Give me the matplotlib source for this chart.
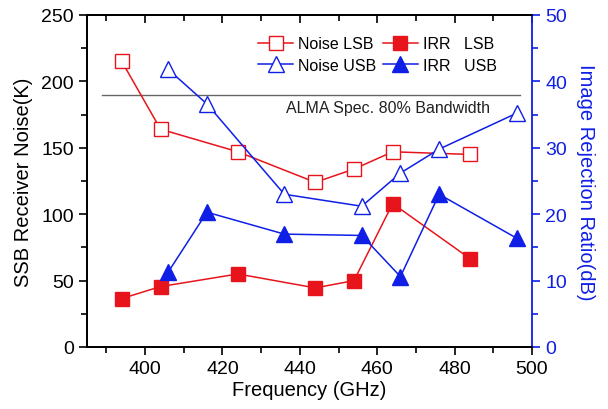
import matplotlib
matplotlib.use("Agg")
import matplotlib.pyplot as plt
from matplotlib.ticker import MultipleLocator

plt.rcParams['font.family'] = ['Liberation Sans', 'DejaVu Sans']

# Data
freq_lsb = [394, 404, 424, 444, 454, 464, 484]
noise_lsb = [215, 164, 147, 124, 134, 147, 145]
irr_lsb = [7.3, 9.1, 11.0, 8.9, 10.0, 21.6, 13.3]

freq_usb = [406, 416, 436, 456, 466, 476, 496]
noise_usb = [209, 183, 115, 106, 131, 149, 176]
irr_usb = [11.3, 20.3, 17.0, 16.8, 10.6, 23.0, 16.4]

spec_level = 190
spec_range = [389, 497]

red = '#e8141b'
blue = '#0f1fe6'

fig = plt.figure(figsize=(6.08, 4.10), dpi=100)
ax = fig.add_axes([87/608, 1-348/410, (532-87)/608, (348-16)/410])
ax2 = ax.twinx()

ax.plot(spec_range, [spec_level, spec_level], color='#666666', lw=1.0, zorder=1)
ax.text(436.3, 180.7, 'ALMA Spec. 80% Bandwidth', fontsize=11.5, va='center', ha='left', color='#222222')

l1, = ax.plot(freq_lsb, noise_lsb, color=red, lw=1.1, marker='s', ms=10, mfc='white',
              mec=red, mew=1.0, label='Noise LSB')
l2, = ax.plot(freq_usb, noise_usb, color=blue, lw=1.1, marker='^', ms=12, mfc='white',
              mec=blue, mew=1.0, label='Noise USB')
l3, = ax2.plot(freq_lsb, irr_lsb, color=red, lw=1.1, marker='s', ms=10, mfc=red,
               mec=red, label='IRR   LSB')
l4, = ax2.plot(freq_usb, irr_usb, color=blue, lw=1.1, marker='^', ms=12, mfc=blue,
               mec=blue, label='IRR   USB')

ax.set_xlim(385, 500)
ax.set_ylim(0, 250)
ax2.set_ylim(0, 50)

ax.xaxis.set_major_locator(MultipleLocator(20))
ax.xaxis.set_minor_locator(MultipleLocator(10))
ax.yaxis.set_major_locator(MultipleLocator(50))
ax.yaxis.set_minor_locator(MultipleLocator(25))
ax2.yaxis.set_major_locator(MultipleLocator(10))
ax2.yaxis.set_minor_locator(MultipleLocator(5))

ax.tick_params(axis='both', which='major', direction='out', length=6, width=1.2, labelsize=14)
ax.tick_params(axis='both', which='minor', direction='out', length=4, width=1.2)
ax2.tick_params(axis='y', which='major', direction='out', length=6, width=1.2, labelsize=14,
                colors=blue)
ax2.tick_params(axis='y', which='minor', direction='out', length=4, width=1.2, colors=blue)

top = ax.secondary_xaxis('top')
top.xaxis.set_major_locator(MultipleLocator(20))
top.xaxis.set_minor_locator(MultipleLocator(10))
top.tick_params(axis='x', which='major', direction='in', length=6, width=1.2, labeltop=False)
top.tick_params(axis='x', which='minor', direction='in', length=4, width=1.2)
top.spines['top'].set_linewidth(1.3)

for s in ['left', 'bottom', 'top']:
    ax.spines[s].set_linewidth(1.3)
    ax2.spines[s].set_linewidth(1.3)
ax2.spines['right'].set_color(blue)
ax2.spines['right'].set_linewidth(1.3)
ax.spines['right'].set_visible(False)

ax.set_xlabel('Frequency (GHz)', fontsize=14.5, labelpad=2)
ax.set_ylabel('SSB Receiver Noise(K)', fontsize=14.5, labelpad=6)
ax2.set_ylabel('Image Rejection Ratio(dB)', fontsize=14.5, color=blue, rotation=270, labelpad=20)

leg = ax.legend(handles=[l1, l2, l3, l4], ncol=2, loc='upper left',
                bbox_to_anchor=(0.37, 0.955), frameon=False, fontsize=11.5,
                handlelength=2.2, handletextpad=0.3, columnspacing=0.4,
                labelspacing=0.4, borderaxespad=0)

fig.savefig('out.png', dpi=100)
